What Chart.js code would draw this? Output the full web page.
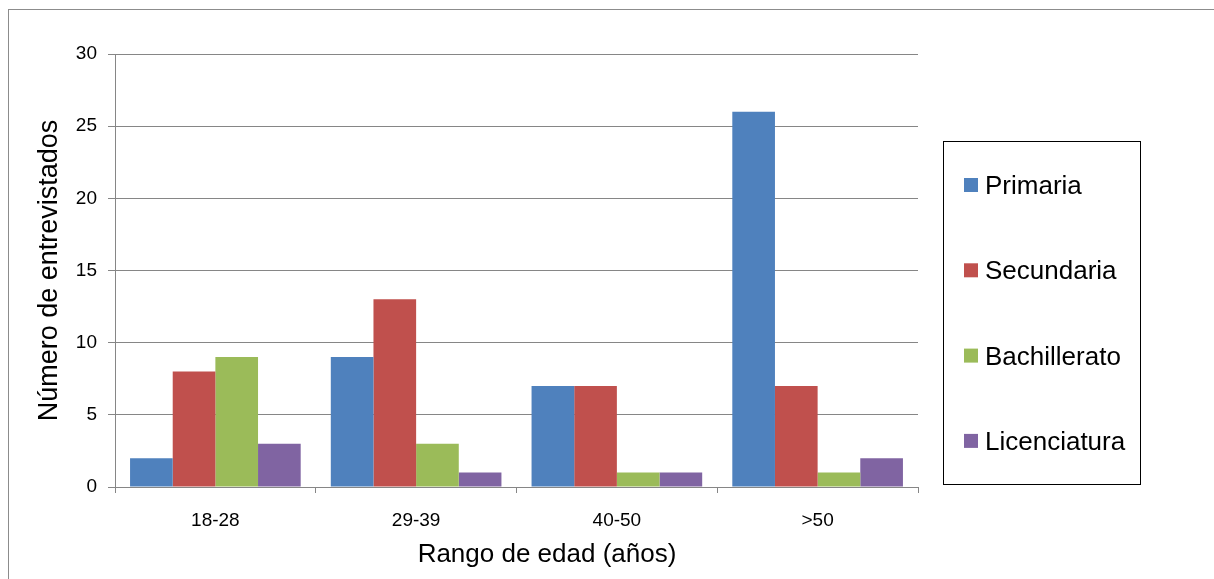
<!DOCTYPE html>
<html>
<head>
<meta charset="utf-8">
<script src="https://cdn.jsdelivr.net/npm/chart.js@4"></script>
<style>
  html, body { margin: 0; padding: 0; background: #fff; }
  #wrap { width: 1214px; height: 579px; position: relative; }
</style>
</head>
<body>
<div id="wrap"><canvas id="chart"></canvas></div>
<script>
const categories = ["18-28", "29-39", "40-50", ">50"];
const seriesNames = ["Primaria", "Secundaria", "Bachillerato", "Licenciatura"];
const primaria = [2, 9, 7, 26];
const secundaria = [8, 13, 7, 7];
const bachillerato = [9, 3, 1, 1];
const licenciatura = [3, 1, 1, 2];
const yTicks = [0, 5, 10, 15, 20, 25, 30];
const xTitle = "Rango de edad (años)";
const yTitle = "Número de entrevistados";

const colors = ["#4F81BD", "#C0504D", "#9BBB59", "#8064A2"];
const gridColor = "#868686";
const fontFamily = "'Liberation Sans', Arial, sans-serif";

// gray frame + white background
const framePlugin = {
    id: "frame",
    beforeDraw(chart) {
        const ctx = chart.ctx;
        ctx.save();
        ctx.fillStyle = "#fff";
        ctx.fillRect(0, 0, chart.width, chart.height);
        ctx.strokeStyle = "#8c8c8c";
        ctx.lineWidth = 1;
        ctx.strokeRect(8.5, 9.5, chart.width + 20, chart.height + 20);
        ctx.restore();
    }
};

// boxed legend on the right, drawn from the datasets, plus the x title
const boxLegend = {
    id: "boxLegend",
    afterDraw(chart) {
        const ctx = chart.ctx;
        ctx.save();
        ctx.strokeStyle = "#000";
        ctx.lineWidth = 1;
        ctx.strokeRect(943.5, 141.5, 197, 343);
        ctx.font = "26px " + fontFamily;
        ctx.textBaseline = "middle";
        chart.data.datasets.forEach((ds, i) => {
            const y = 185 + i * 85.3;
            ctx.fillStyle = ds.backgroundColor;
            ctx.fillRect(964, y - 7, 14, 14);
            ctx.fillStyle = "#000";
            ctx.fillText(ds.label, 985, y + 2);
        });
        // x axis title (sits a bit right of the plot centre in the original)
        ctx.textAlign = "center";
        ctx.fillText(xTitle, 547, 555);
        ctx.restore();
    }
};

const seriesData = [primaria, secundaria, bachillerato, licenciatura];

new Chart(document.getElementById("chart"), {
    type: "bar",
    data: {
        labels: categories,
        datasets: seriesNames.map((name, i) => ({
            label: name,
            data: seriesData[i],
            backgroundColor: colors[i],
            borderWidth: 0,
            categoryPercentage: 0.85,
            barPercentage: 1.0
        }))
    },
    options: {
        responsive: true,
        maintainAspectRatio: false,
        animation: false,
        layout: { padding: { left: 0, right: 296, top: 54, bottom: 0 } },
        plugins: {
            legend: { display: false },
            tooltip: { enabled: false }
        },
        scales: {
            x: {
                grid: {
                    offset: true,
                    drawOnChartArea: false,
                    color: gridColor,
                    tickLength: 6
                },
                border: { color: gridColor, width: 1 },
                ticks: {
                    color: "#000",
                    font: { family: fontFamily, size: 19 },
                    padding: 16,
                    maxRotation: 0
                },
                afterFit(scale) { scale.height = 92; }
            },
            y: {
                min: 0,
                max: 30,
                afterBuildTicks(scale) { scale.ticks = yTicks.map(v => ({ value: v })); },
                grid: {
                    color: gridColor,
                    tickLength: 7
                },
                border: { color: gridColor, width: 1 },
                ticks: {
                    color: "#000",
                    font: { family: fontFamily, size: 19 },
                    padding: 11
                },
                title: {
                    display: true,
                    text: yTitle,
                    color: "#000",
                    font: { family: fontFamily, size: 27 },
                    padding: { top: 33, bottom: 0 }
                },
                afterFit(scale) { scale.width = 115; }
            }
        }
    },
    plugins: [framePlugin, boxLegend]
});
</script>
</body>
</html>
